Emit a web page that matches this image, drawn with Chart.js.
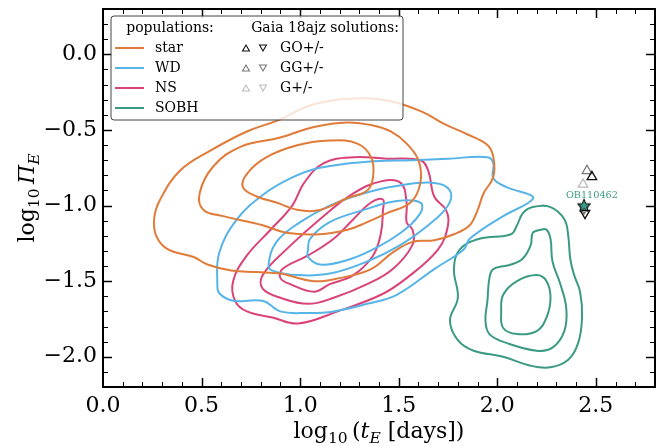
<!DOCTYPE html>
<html>
<head>
<meta charset="utf-8">
<script src="https://cdn.jsdelivr.net/npm/chart.js@4.4.0/dist/chart.umd.min.js"></script>
<style>
  html, body { margin: 0; padding: 0; background: #fff; }
  canvas { display: block; }
</style>
</head>
<body>
<canvas id="chart" width="671" height="446"></canvas>
<script>
//! Contour levels, [log10 tE, log10 piE]
const starOuter = [[0.26,-1.08],[0.29,-0.96],[0.39,-0.77],[0.54,-0.64],[0.73,-0.51],[0.88,-0.44],[1.07,-0.33],[1.31,-0.29],[1.46,-0.31],[1.62,-0.38],[1.73,-0.46],[1.85,-0.53],[1.95,-0.60],[1.98,-0.68],[1.98,-0.81],[1.93,-0.92],[1.90,-1.03],[1.86,-1.13],[1.78,-1.19],[1.68,-1.23],[1.57,-1.24],[1.47,-1.31],[1.36,-1.42],[1.20,-1.48],[1.07,-1.50],[0.90,-1.45],[0.78,-1.44],[0.65,-1.43],[0.53,-1.39],[0.46,-1.34],[0.33,-1.29],[0.27,-1.20]];
const starMid = [[0.49,-0.92],[0.51,-1.03],[0.61,-1.07],[0.81,-1.13],[0.93,-1.18],[1.10,-1.19],[1.24,-1.16],[1.34,-1.11],[1.44,-1.05],[1.56,-0.98],[1.61,-0.85],[1.60,-0.70],[1.54,-0.59],[1.46,-0.51],[1.37,-0.47],[1.24,-0.45],[1.07,-0.48],[0.90,-0.55],[0.70,-0.61],[0.56,-0.74]];
const starInner = [[0.71,-0.88],[0.73,-0.79],[0.83,-0.68],[0.99,-0.60],[1.15,-0.57],[1.29,-0.59],[1.36,-0.68],[1.37,-0.81],[1.34,-0.90],[1.24,-0.95],[1.10,-1.03],[0.99,-1.03],[0.88,-0.98],[0.78,-0.94]];

const wdOuter = [[0.58,-1.52],[0.59,-1.31],[0.68,-1.09],[0.81,-0.93],[0.95,-0.82],[1.10,-0.75],[1.34,-0.71],[1.57,-0.70],[1.75,-0.69],[1.95,-0.68],[1.98,-0.72],[1.98,-0.82],[2.05,-0.88],[2.18,-0.94],[2.16,-0.98],[2.03,-1.07],[1.86,-1.22],[1.83,-1.29],[1.68,-1.42],[1.49,-1.59],[1.34,-1.65],[1.17,-1.70],[1.04,-1.71],[0.90,-1.70],[0.81,-1.63],[0.66,-1.63],[0.59,-1.58]];
const wdMid = [[0.84,-1.39],[0.88,-1.24],[1.00,-1.11],[1.15,-1.00],[1.32,-0.92],[1.49,-0.87],[1.68,-0.85],[1.76,-0.90],[1.75,-1.00],[1.65,-1.13],[1.51,-1.26],[1.34,-1.37],[1.15,-1.45],[0.99,-1.46],[0.86,-1.43]];
const wdInner = [[1.04,-1.29],[1.05,-1.22],[1.15,-1.11],[1.32,-1.03],[1.49,-0.97],[1.61,-0.98],[1.61,-1.05],[1.51,-1.18],[1.37,-1.29],[1.24,-1.36],[1.10,-1.39],[1.04,-1.34]];

const nsOuter = [[0.67,-1.63],[0.66,-1.50],[0.73,-1.33],[0.85,-1.16],[0.96,-1.00],[1.02,-0.85],[1.12,-0.72],[1.27,-0.68],[1.44,-0.69],[1.61,-0.70],[1.65,-0.77],[1.68,-0.94],[1.74,-1.03],[1.75,-1.13],[1.70,-1.29],[1.54,-1.48],[1.41,-1.59],[1.19,-1.70],[0.99,-1.78],[0.86,-1.74],[0.73,-1.70]];
const nsMid = [[0.81,-1.55],[0.81,-1.46],[0.93,-1.29],[1.10,-1.09],[1.27,-0.92],[1.41,-0.84],[1.51,-0.85],[1.54,-0.98],[1.54,-1.11],[1.57,-1.16],[1.57,-1.26],[1.47,-1.42],[1.34,-1.52],[1.17,-1.61],[1.04,-1.65],[0.90,-1.61]];
const nsInner = [[0.90,-1.48],[0.91,-1.42],[1.04,-1.33],[1.17,-1.22],[1.27,-1.09],[1.36,-0.98],[1.42,-0.96],[1.42,-1.03],[1.41,-1.18],[1.37,-1.33],[1.27,-1.46],[1.15,-1.52],[1.07,-1.57],[0.95,-1.52]];

const sobhOuter = [[1.76,-1.76],[1.80,-1.89],[1.88,-1.96],[2.03,-2.00],[2.17,-2.06],[2.27,-2.07],[2.36,-2.02],[2.41,-1.91],[2.43,-1.74],[2.42,-1.57],[2.39,-1.46],[2.37,-1.35],[2.36,-1.20],[2.34,-1.09],[2.27,-1.01],[2.18,-1.01],[2.13,-1.05],[2.10,-1.13],[2.07,-1.19],[1.91,-1.22],[1.81,-1.29],[1.78,-1.42],[1.80,-1.61]];
const sobhMid = [[2.22,-1.16],[2.18,-1.18],[2.17,-1.26],[2.13,-1.35],[2.07,-1.39],[1.98,-1.42],[1.96,-1.48],[1.95,-1.63],[1.94,-1.76],[1.96,-1.85],[2.05,-1.91],[2.20,-1.96],[2.28,-1.94],[2.34,-1.83],[2.35,-1.68],[2.32,-1.52],[2.28,-1.37],[2.27,-1.22],[2.25,-1.16]];
const sobhInner = [[2.02,-1.70],[2.03,-1.59],[2.10,-1.50],[2.20,-1.46],[2.25,-1.50],[2.27,-1.61],[2.25,-1.74],[2.20,-1.83],[2.10,-1.85],[2.03,-1.81]];

const populations = ["star", "WD", "NS", "SOBH"];
const popColors = ["#e07b39", "#56b4e9", "#d9437a", "#3b9a84"];
const popContours = [
  [starOuter, starMid, starInner],
  [wdOuter, wdMid, wdInner],
  [nsOuter, nsMid, nsInner],
  [sobhOuter, sobhMid, sobhInner],
];

//! Gaia 18ajz solutions (+ and - branches)
const solutionNames = ["GO+/-", "GG+/-", "G+/-"];
const solutionColors = ["#111111", "#777777", "#bbbbbb"];
const solPlus = [[2.48, -0.81], [2.455, -0.77], [2.435, -0.86]];
const solMinus = [[2.445, -1.05], [2.44, -1.02], [2.44, -1.01]];

//! Event OB110462
const eventName = "OB110462";
const eventPoint = [2.44, -1.0];
const eventLabelAt = [2.48, -0.935];

const xTicks = [0, 0.5, 1.0, 1.5, 2.0, 2.5];
const yTicks = [-2.0, -1.5, -1.0, -0.5, 0.0];

const SERIF = '"DejaVu Serif"';
Chart.defaults.font.family = SERIF;
Chart.defaults.color = "#000";

// closes a contour: extra points at both ends so the join is smooth, end segments hidden
function loop(pts) {
  const n = pts.length;
  const ring = [pts[n - 1], ...pts, pts[0], pts[1]];
  return ring.map(p => ({ x: p[0], y: p[1] }));
}

// filled star used for the event marker
function starImage(fill) {
  const c = document.createElement("canvas");
  c.width = 16; c.height = 16;
  const g = c.getContext("2d");
  g.beginPath();
  for (let i = 0; i < 10; i++) {
    const r = i % 2 === 0 ? 7 : 2.9;
    const a = -Math.PI / 2 + i * Math.PI / 5;
    const px = 8 + r * Math.cos(a), py = 8.5 + r * Math.sin(a);
    i === 0 ? g.moveTo(px, py) : g.lineTo(px, py);
  }
  g.closePath();
  g.fillStyle = fill;
  g.fill();
  g.lineWidth = 1;
  g.strokeStyle = "#000";
  g.stroke();
  return c;
}

const datasets = [];

datasets.push({
  data: [{ x: eventPoint[0], y: eventPoint[1] }],
  pointStyle: starImage(popColors[3]),
  pointRadius: 8,
});

solPlus.forEach((p, i) => {
  datasets.push({
    data: [{ x: p[0], y: p[1] }],
    pointStyle: "triangle",
    pointRadius: 5.5,
    pointBorderWidth: 1.3,
    pointBorderColor: solutionColors[i],
    pointBackgroundColor: "rgba(0,0,0,0)",
  });
});
solMinus.forEach((p, i) => {
  datasets.push({
    data: [{ x: p[0], y: p[1] }],
    pointStyle: "triangle",
    rotation: 180,
    pointRotation: 180,
    pointRadius: 5.5,
    pointBorderWidth: 1.3,
    pointBorderColor: solutionColors[i],
    pointBackgroundColor: "rgba(0,0,0,0)",
  });
});

popContours.forEach((levels, k) => {
  const col = popColors[k];
  levels.forEach(pts => {
    const last = pts.length + 1;
    datasets.push({
      data: loop(pts),
      showLine: true,
      fill: false,
      borderColor: col,
      borderWidth: 2,
      pointRadius: 0,
      tension: 0.4,
      segment: {
        borderColor: s => (s.p0DataIndex === 0 || s.p0DataIndex === last) ? "rgba(0,0,0,0)" : col,
      },
    });
  });
});

function richText(ctx, parts, cx, baseY) {
  let w = 0;
  parts.forEach(p => { ctx.font = p.font; p.w = ctx.measureText(p.t).width; w += p.w; });
  let xx = cx - w / 2;
  parts.forEach(p => {
    ctx.font = p.font;
    ctx.fillText(p.t, xx, baseY + (p.dy || 0));
    xx += p.w;
  });
}

function triangle(ctx, x, y, r, down, color) {
  const s = down ? -1 : 1;
  ctx.beginPath();
  ctx.moveTo(x, y - s * r);
  ctx.lineTo(x + r * 0.866, y + s * r * 0.5);
  ctx.lineTo(x - r * 0.866, y + s * r * 0.5);
  ctx.closePath();
  ctx.strokeStyle = color;
  ctx.lineWidth = 1.1;
  ctx.stroke();
}

//! Inward ticks, frame, label of the event, legend and axis titles
const decor = {
  id: "decor",
  afterDatasetsDraw(chart) {
    const { ctx, chartArea: a, scales: { x, y } } = chart;
    ctx.save();

    ctx.fillStyle = popColors[3];
    ctx.font = "9.7px " + SERIF;
    ctx.textAlign = "center";
    ctx.textBaseline = "middle";
    ctx.fillText(eventName, x.getPixelForValue(eventLabelAt[0]), y.getPixelForValue(eventLabelAt[1]));

    ctx.strokeStyle = "#000";
    const seg = (x0, y0, x1, y1) => { ctx.beginPath(); ctx.moveTo(x0, y0); ctx.lineTo(x1, y1); ctx.stroke(); };
    for (let i = 1; i < 28; i++) {
      const px = Math.round(x.getPixelForValue(i / 10)) + 0.5;
      const major = i % 5 === 0;
      const L = major ? 9 : 5;
      ctx.lineWidth = major ? 1.5 : 1;
      seg(px, a.bottom, px, a.bottom - L);
      seg(px, a.top, px, a.top + L);
    }
    for (let i = -21; i < 3; i++) {
      const py = Math.round(y.getPixelForValue(i / 10)) + 0.5;
      const major = i % 5 === 0;
      const L = major ? 9 : 5;
      ctx.lineWidth = major ? 1.5 : 1;
      seg(a.left, py, a.left + L, py);
      seg(a.right, py, a.right - L, py);
    }
    ctx.lineWidth = 2;
    ctx.strokeRect(a.left, a.top, a.right - a.left, a.bottom - a.top);

    // legend
    const lx = a.left + 8, ly = a.top + 7, lw = 292, lh = 104;
    ctx.beginPath();
    ctx.roundRect(lx, ly, lw, lh, 3);
    ctx.fillStyle = "rgba(255,255,255,0.8)";
    ctx.fill();
    ctx.lineWidth = 1;
    ctx.strokeStyle = "#444";
    ctx.stroke();

    ctx.fillStyle = "#000";
    ctx.font = "14px " + SERIF;
    ctx.textBaseline = "middle";
    ctx.textAlign = "center";
    ctx.fillText("populations:", a.left + 67, a.top + 19);
    ctx.fillText("Gaia 18ajz solutions:", a.left + 222, a.top + 19);
    ctx.textAlign = "left";
    populations.forEach((name, i) => {
      const ry = a.top + 39 + i * 20;
      ctx.strokeStyle = popColors[i];
      ctx.lineWidth = 2;
      seg(a.left + 12, ry, a.left + 41, ry);
      ctx.fillStyle = "#000";
      ctx.fillText(name, a.left + 52, ry);
    });
    solutionNames.forEach((name, i) => {
      const ry = a.top + 39 + i * 20;
      triangle(ctx, a.left + 143, ry + 1, 4, false, solutionColors[i]);
      triangle(ctx, a.left + 160, ry - 1, 4, true, solutionColors[i]);
      ctx.fillStyle = "#000";
      ctx.fillText(name, a.left + 177, ry);
    });

    // axis titles
    const F = "22px " + SERIF, FS = "15.5px " + SERIF;
    const FI = "italic 22px " + SERIF, FIS = "italic 15.5px " + SERIF;
    ctx.fillStyle = "#000";
    ctx.textAlign = "left";
    ctx.textBaseline = "alphabetic";
    richText(ctx, [
      { t: "log", font: F }, { t: "10", font: FS, dy: 5 }, { t: "\u2009(", font: F },
      { t: "t", font: FI }, { t: "E", font: FIS, dy: 5 }, { t: " [days])", font: F },
    ], (a.left + a.right) / 2, 438);

    ctx.translate(27, (a.top + a.bottom) / 2);
    ctx.rotate(-Math.PI / 2);
    richText(ctx, [
      { t: "log", font: F }, { t: "10", font: FS, dy: 5 }, { t: "\u2009", font: F },
      { t: "\u03A0", font: FI }, { t: "E", font: FIS, dy: 5 },
    ], 0, 7);

    ctx.restore();
  },
};

const fmt = v => Number(v).toFixed(1).replace("-", "\u2212");

new Chart(document.getElementById("chart"), {
  type: "scatter",
  data: { datasets },
  options: {
    responsive: false,
    animation: false,
    events: [],
    layout: { padding: { left: 0, top: 4, right: 16, bottom: 0 } },
    plugins: { legend: { display: false }, tooltip: { enabled: false } },
    scales: {
      x: {
        type: "linear",
        min: 0,
        max: 2.8,
        afterBuildTicks: s => { s.ticks = xTicks.map(v => ({ value: v })); },
        afterFit: s => { s.height = 59; s.paddingLeft = 0; s.paddingRight = 0; },
        grid: { display: false, drawTicks: false },
        border: { display: false },
        ticks: { callback: fmt, font: { size: 22 }, padding: 6, maxRotation: 0, color: "#000" },
      },
      y: {
        type: "linear",
        min: -2.2,
        max: 0.3,
        afterBuildTicks: s => { s.ticks = yTicks.map(v => ({ value: v })); },
        afterFit: s => { s.width = 103; s.paddingTop = 0; s.paddingBottom = 0; },
        grid: { display: false, drawTicks: false },
        border: { display: false },
        ticks: { callback: fmt, font: { size: 22 }, padding: 6, color: "#000" },
      },
    },
  },
  plugins: [decor],
});
</script>
</body>
</html>
